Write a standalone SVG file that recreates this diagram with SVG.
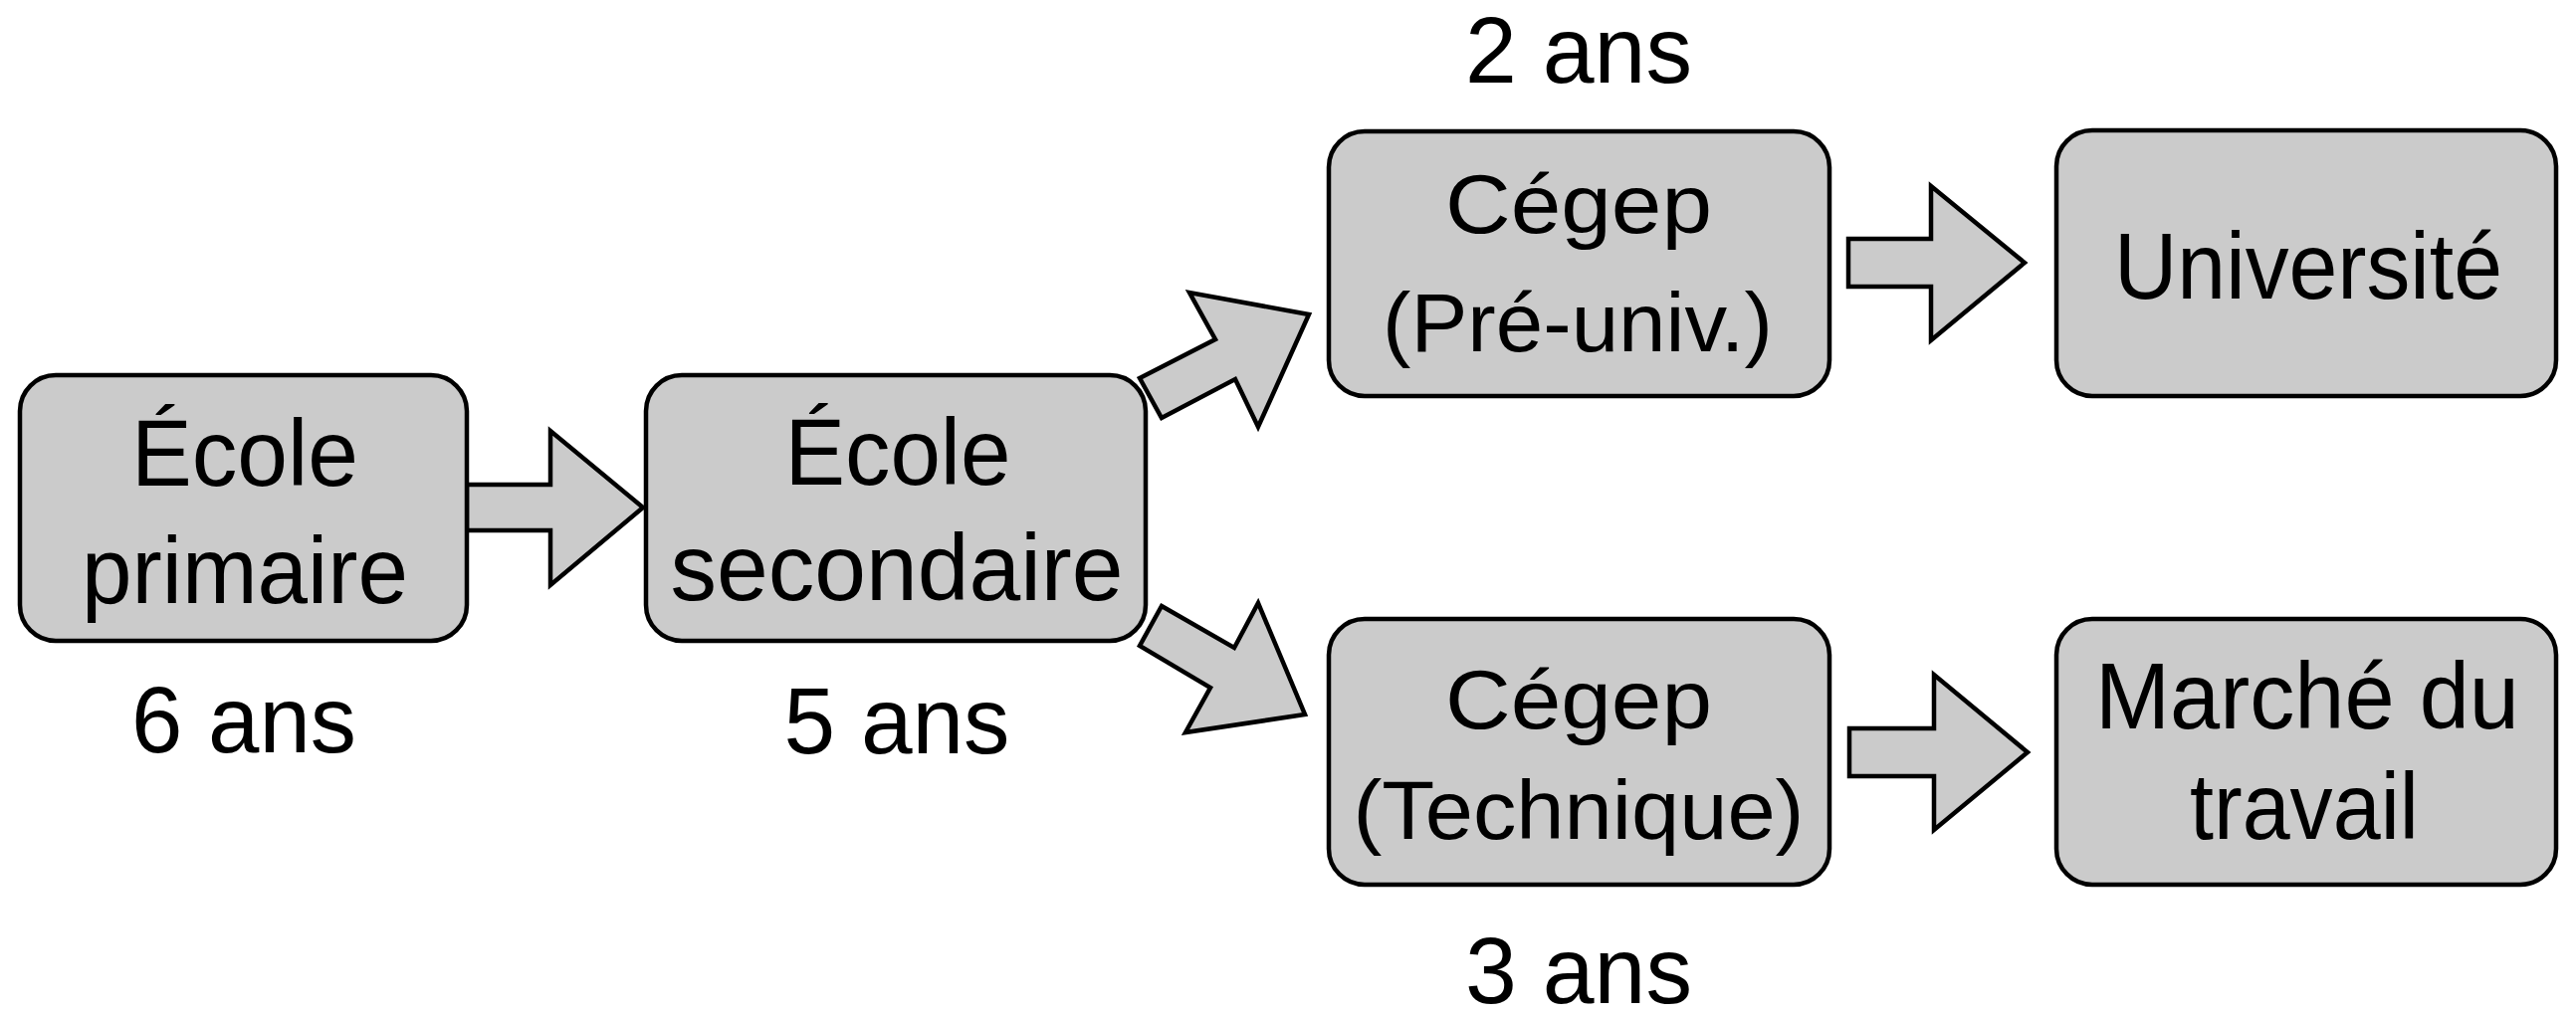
<svg xmlns="http://www.w3.org/2000/svg" width="2588" height="1021" viewBox="0 0 2588 1021">
<style>
.box{fill:#cbcbcb;stroke:#000;stroke-width:4.5}
.arr{fill:#cbcbcb;stroke:#000;stroke-width:4.5;stroke-linejoin:miter}
text{font-family:"Liberation Sans",Arial,Helvetica,sans-serif;fill:#000;text-anchor:middle}
.t{font-size:94px}
.s{font-size:84px}
</style>
<rect width="2588" height="1021" fill="#fff"/>
<g id="connectors">
<polygon class="arr" points="469,487 553,487 553,433 646,510 553,588 553,533 469,533"/>
<polygon class="arr" points="1145,380 1221,341 1195,294 1315,316 1264,429 1241,381 1167,420"/>
<polygon class="arr" points="1167,609 1240,651 1264,606 1311,718 1191,736 1216,691 1145,649"/>
<polygon class="arr" points="1857,240 1940,240 1940,187 2034,264 1940,342 1940,288 1857,288"/>
<polygon class="arr" points="1858,732 1943,732 1943,678 2037,756 1943,834 1943,780 1858,780"/>
</g>
<g id="ecole-primaire">
<rect class="box" x="20" y="377" width="449" height="267" rx="36"/>
<text class="t" x="246" y="488" textLength="228" lengthAdjust="spacingAndGlyphs">École</text>
<text class="t" x="246" y="606" textLength="328" lengthAdjust="spacingAndGlyphs">primaire</text>
</g>
<g id="ecole-secondaire">
<rect class="box" x="649" y="377" width="502" height="267" rx="36"/>
<text class="t" x="902" y="487" textLength="227" lengthAdjust="spacingAndGlyphs">École</text>
<text class="t" x="901" y="603" textLength="455" lengthAdjust="spacingAndGlyphs">secondaire</text>
</g>
<g id="cegep-preuniv">
<rect class="box" x="1335" y="132" width="503" height="266" rx="36"/>
<text class="s" x="1586" y="234" textLength="268" lengthAdjust="spacingAndGlyphs">Cégep</text>
<text class="s" x="1585" y="353" textLength="392" lengthAdjust="spacingAndGlyphs">(Pré-univ.)</text>
</g>
<g id="universite">
<rect class="box" x="2066" y="131" width="502" height="267" rx="36"/>
<text class="t" x="2319" y="300" textLength="390" lengthAdjust="spacingAndGlyphs">Université</text>
</g>
<g id="cegep-technique">
<rect class="box" x="1335" y="622" width="503" height="267" rx="36"/>
<text class="s" x="1586" y="732" textLength="268" lengthAdjust="spacingAndGlyphs">Cégep</text>
<text class="s" x="1586" y="843" textLength="453" lengthAdjust="spacingAndGlyphs">(Technique)</text>
</g>
<g id="marche-travail">
<rect class="box" x="2066" y="622" width="502" height="267" rx="36"/>
<text class="t" x="2318" y="732" textLength="426" lengthAdjust="spacingAndGlyphs">Marché du</text>
<text class="t" x="2315" y="843" textLength="230" lengthAdjust="spacingAndGlyphs">travail</text>
</g>
<g id="labels">
<text class="t" x="245" y="756" textLength="226" lengthAdjust="spacingAndGlyphs">6 ans</text>
<text class="t" x="901" y="757" textLength="227" lengthAdjust="spacingAndGlyphs">5 ans</text>
<text class="t" x="1586" y="83" textLength="228" lengthAdjust="spacingAndGlyphs">2 ans</text>
<text class="t" x="1586" y="1008" textLength="228" lengthAdjust="spacingAndGlyphs">3 ans</text>
</g>
</svg>
